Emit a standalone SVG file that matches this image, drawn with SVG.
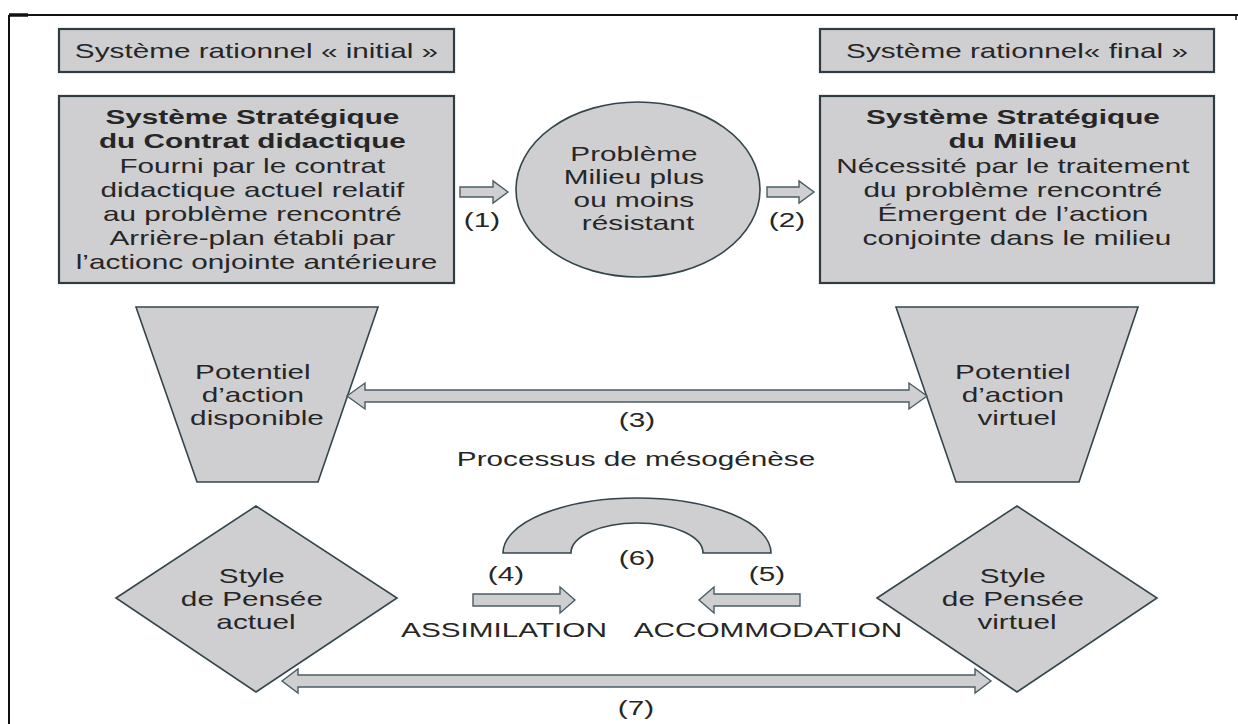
<svg xmlns="http://www.w3.org/2000/svg" width="1238" height="724" viewBox="0 0 1238 724">
<style>
.shape{fill:#cfcfd2;stroke:#34454c;stroke-width:1.6}
.box{fill:#cfcfd2;stroke:#2f3c42;stroke-width:2.2}
.arr{fill:#cfcfd2;stroke:#4a5d64;stroke-width:1.4;stroke-linejoin:miter}
.t{font-family:"Liberation Sans",Arial,Helvetica,sans-serif;font-size:20.5px;fill:#262626;text-anchor:middle}
.b{font-weight:bold}
</style>
<rect x="0" y="0" width="1238" height="724" fill="#ffffff"/>
<g id="frame">
<path d="M9,15 H1238 M9,15 V724" fill="none" stroke="#111" stroke-width="2"/>
<path d="M9,15 H28" stroke="#111" stroke-width="3.5"/>
<path d="M1236,15 V20" stroke="#111" stroke-width="1.5"/>
</g>
<g id="title-initial">
<rect class="box" x="59" y="29" width="395" height="43"/>
<text class="t" transform="translate(256.5,0) scale(1.45,1)"><tspan x="0" y="58">Système rationnel « initial »</tspan></text>
</g>
<g id="title-final">
<rect class="box" x="820" y="29" width="394" height="43"/>
<text class="t" transform="translate(1017,0) scale(1.45,1)"><tspan x="0" y="58">Système rationnel« final »</tspan></text>
</g>
<g id="strategic-contract">
<rect class="box" x="59" y="96" width="395" height="187"/>
<text class="t" transform="translate(256.5,0) scale(1.45,1)">
<tspan class="b" x="0" y="124">Système Stratégique</tspan>
<tspan class="b" x="0" y="148">du Contrat didactique</tspan>
<tspan x="0" y="173">Fourni par le contrat</tspan>
<tspan x="0" y="197">didactique actuel relatif</tspan>
<tspan x="0" y="221">au problème rencontré</tspan>
<tspan x="0" y="245">Arrière-plan établi par</tspan>
<tspan x="0" y="269">l’actionc onjointe antérieure</tspan>
</text>
</g>
<g id="problem">
<ellipse class="shape" cx="638" cy="189.5" rx="122" ry="87.5"/>
<text class="t" transform="translate(638,0) scale(1.45,1)">
<tspan x="0" y="161">Problème</tspan>
<tspan x="0" y="184">Milieu plus</tspan>
<tspan x="0" y="207">ou moins</tspan>
<tspan x="0" y="230">résistant</tspan>
</text>
</g>
<g id="strategic-milieu">
<rect class="box" x="820" y="96" width="394" height="187"/>
<text class="t" transform="translate(1017,0) scale(1.45,1)">
<tspan class="b" x="0" y="124">Système Stratégique</tspan>
<tspan class="b" x="0" y="148">du Milieu</tspan>
<tspan x="0" y="173">Nécessité par le traitement</tspan>
<tspan x="0" y="197">du problème rencontré</tspan>
<tspan x="0" y="221">Émergent de l’action</tspan>
<tspan x="0" y="245">conjointe dans le milieu</tspan>
</text>
</g>
<g id="potential-available">
<polygon class="shape" points="136,307 378,307 318,482 197,482"/>
<text class="t" transform="translate(257,0) scale(1.45,1)">
<tspan x="0" y="379">Potentiel</tspan>
<tspan x="0" y="402">d’action</tspan>
<tspan x="0" y="425">disponible</tspan>
</text>
</g>
<g id="potential-virtual">
<polygon class="shape" points="896,307 1138,307 1079,482 956,482"/>
<text class="t" transform="translate(1017,0) scale(1.45,1)">
<tspan x="0" y="379">Potentiel</tspan>
<tspan x="0" y="402">d’action</tspan>
<tspan x="0" y="425">virtuel</tspan>
</text>
</g>
<g id="style-actual">
<polygon class="shape" points="116,598 256,506 397,598 256,692"/>
<text class="t" transform="translate(256,0) scale(1.45,1)">
<tspan x="0" y="583">Style</tspan>
<tspan x="0" y="606">de Pensée</tspan>
<tspan x="0" y="629">actuel</tspan>
</text>
</g>
<g id="style-virtual">
<polygon class="shape" points="877,598 1017,506 1157,598 1017,692"/>
<text class="t" transform="translate(1017,0) scale(1.45,1)">
<tspan x="0" y="583">Style</tspan>
<tspan x="0" y="606">de Pensée</tspan>
<tspan x="0" y="629">virtuel</tspan>
</text>
</g>
<g id="connectors">
<polygon class="arr" points="460,187 493,187 493,181 508,192 493,203 493,197 460,197"/>
<polygon class="arr" points="767,187 799,187 799,181 814,192 799,203 799,197 767,197"/>
<polygon class="arr" points="347,396 365,383 365,390 909,390 909,383 927,396 909,409 909,402 365,402 365,409"/>
<path class="shape" d="M503,553 A134,55 0 0 1 771,553 L703,553 A66,30 0 0 0 571,553 Z"/>
<polygon class="arr" points="473,594 560,594 560,587 575,600 560,613 560,606 473,606"/>
<polygon class="arr" points="800,594 714,594 714,587 699,600 714,613 714,606 800,606"/>
<polygon class="arr" points="282,681 298,669 298,675 975,675 975,669 991,681 975,693 975,687 298,687 298,693"/>
</g>
<g id="labels">
<text class="t" transform="translate(482,0) scale(1.45,1)"><tspan x="0" y="227">(1)</tspan></text>
<text class="t" transform="translate(787,0) scale(1.45,1)"><tspan x="0" y="227">(2)</tspan></text>
<text class="t" transform="translate(637,0) scale(1.45,1)"><tspan x="0" y="427">(3)</tspan></text>
<text class="t" transform="translate(636,0) scale(1.45,1)"><tspan x="0" y="466">Processus de mésogénèse</tspan></text>
<text class="t" transform="translate(637,0) scale(1.45,1)"><tspan x="0" y="565">(6)</tspan></text>
<text class="t" transform="translate(506,0) scale(1.45,1)"><tspan x="0" y="581">(4)</tspan></text>
<text class="t" transform="translate(767,0) scale(1.45,1)"><tspan x="0" y="581">(5)</tspan></text>
<text class="t" transform="translate(504,0) scale(1.45,1)"><tspan x="0" y="637">ASSIMILATION</tspan></text>
<text class="t" transform="translate(768,0) scale(1.45,1)"><tspan x="0" y="637">ACCOMMODATION</tspan></text>
<text class="t" transform="translate(636,0) scale(1.45,1)"><tspan x="0" y="715">(7)</tspan></text>
</g>
</svg>
